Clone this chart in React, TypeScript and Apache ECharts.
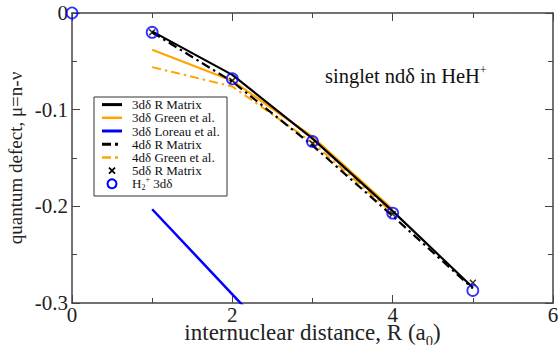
import React, { useEffect, useRef } from "react";
import * as echarts from "echarts";

const R5 = [1, 2, 3, 4, 5];
const R4 = [1, 2, 3, 4];
const R3 = [1, 2, 3];
const R6 = [0, 1, 2, 3, 4, 5];
const rMatrix3d = [-0.019, -0.064, -0.13, -0.205, -0.284];
const green3d = [-0.038, -0.07, -0.128, -0.203];
const loreau3d = [-0.203, -0.291, -0.379];
const rMatrix4d = [-0.02, -0.071, -0.137, -0.21, -0.285];
const green4d = [-0.056, -0.076, -0.134, -0.207];
const rMatrix5d = [-0.02, -0.07, -0.135, -0.208, -0.279];
const h2plus3d = [0, -0.02, -0.068, -0.133, -0.207, -0.287];
const xTicks = [0, 2, 4, 6];
const yTicks = [0, -0.1, -0.2, -0.3];

const SERIF = "'Liberation Serif', serif";
const AXIS = "#444";
const ORANGE = "#FFA500";
const BLUE = "#0000FF";
const DASHDOT = [9, 4, 2.5, 4];
const LG_FS = 13;
const ROW_H = 13.2;

const pairs = (xs: number[], ys: number[]) => xs.map((x, i) => [x, ys[i]]);

const legendItems = [
  { label: "{a|3dδ R Matrix}", kind: "line", color: "#000", dash: null, w: 3 },
  { label: "{a|3dδ Green et al.}", kind: "line", color: ORANGE, dash: null, w: 2.5 },
  { label: "{a|3dδ Loreau et al.}", kind: "line", color: BLUE, dash: null, w: 3 },
  { label: "{a|4dδ R Matrix}", kind: "line", color: "#000", dash: [9, 4, 3, 4], w: 3 },
  { label: "{a|4dδ Green et al.}", kind: "line", color: ORANGE, dash: [9, 4, 3, 4], w: 2.5 },
  { label: "{a|5dδ R Matrix}", kind: "x", color: "#000", dash: null, w: 2 },
  { label: "{a|H}{s|2}{p|+}{a| 3dδ}", kind: "o", color: BLUE, dash: null, w: 2 },
];

const XPATH = "path://M0,1.5L1.5,0L5,3.5L8.5,0L10,1.5L6.5,5L10,8.5L8.5,10L5,6.5L1.5,10L0,8.5L3.5,5Z";

export default function App() {
  const ref = useRef<HTMLDivElement>(null);
  useEffect(() => {
    if (!ref.current) return;
    const chart = echarts.init(ref.current, null, { renderer: "svg" });

    const lgLeft = 94, lgTop = 97, lgW = 133, lgH = 99;
    const legendEls: any[] = [
      {
        type: "rect",
        shape: { x: lgLeft, y: lgTop, width: lgW, height: lgH },
        style: { fill: "#fff", stroke: "#333", lineWidth: 1 },
        z: 100,
      },
    ];
    legendItems.forEach((it, i) => {
      const cy = lgTop + 1 + ROW_H / 2 + i * ROW_H;
      if (it.kind === "line") {
        legendEls.push({
          type: "line",
          shape: { x1: 102, y1: cy, x2: 122, y2: cy },
          style: { stroke: it.color, lineWidth: it.w, lineDash: it.dash || undefined },
          z: 101,
        });
      } else if (it.kind === "x") {
        legendEls.push({
          type: "line",
          shape: { x1: 109, y1: cy - 3, x2: 115, y2: cy + 3 },
          style: { stroke: "#000", lineWidth: 1.8 },
          z: 101,
        });
        legendEls.push({
          type: "line",
          shape: { x1: 115, y1: cy - 3, x2: 109, y2: cy + 3 },
          style: { stroke: "#000", lineWidth: 1.8 },
          z: 101,
        });
      } else {
        legendEls.push({
          type: "circle",
          shape: { cx: 112, cy, r: 4.5 },
          style: { fill: "none", stroke: BLUE, lineWidth: 2 },
          z: 101,
        });
      }
    });
    legendEls.push({
      type: "text",
      x: 132,
      y: lgTop + 1,
      style: {
        text: legendItems.map((it) => it.label).join("\n"),
        verticalAlign: "top",
        rich: {
          a: { fontFamily: SERIF, fontSize: LG_FS, fill: "#111", lineHeight: ROW_H },
          s: { fontFamily: SERIF, fontSize: 8, fill: "#111", lineHeight: 9, padding: [8, 0, 0, 0] },
          p: { fontFamily: SERIF, fontSize: 8, fill: "#111", lineHeight: 9, padding: [0, 0, 8, 0] },
        },
      },
      z: 101,
    });

    const axisLineStyle = { color: AXIS, width: 1.5 };
    const xBase = {
      type: "value",
      min: 0,
      max: 6,
      interval: 2,
      axisLine: { show: true, onZero: false, lineStyle: axisLineStyle },
      axisTick: { show: true, inside: true, length: 8, lineStyle: { color: AXIS, width: 1 } },
      minorTick: { show: true, splitNumber: 2, length: 5, lineStyle: { color: AXIS, width: 1 } },
      splitLine: { show: false },
      minorSplitLine: { show: false },
    };
    const yBase = {
      type: "value",
      min: -0.3,
      max: 0,
      interval: 0.1,
      axisLine: { show: true, onZero: false, lineStyle: axisLineStyle },
      axisTick: { show: true, inside: true, length: 8, lineStyle: { color: AXIS, width: 1 } },
      minorTick: { show: true, splitNumber: 2, length: 5, lineStyle: { color: AXIS, width: 1 } },
      splitLine: { show: false },
      minorSplitLine: { show: false },
    };

    chart.setOption({
      animation: false,
      backgroundColor: "#fff",
      grid: { left: 72, right: 7, top: 13, bottom: 42, containLabel: false, outerBoundsMode: "none" },
      xAxis: [
        {
          ...xBase,
          position: "bottom",
          axisLabel: {
            show: true,
            fontFamily: SERIF,
            fontSize: 21,
            lineHeight: 16,
            color: "#222",
            margin: 4,
            formatter: (v: number) => (xTicks.includes(v) ? String(v) : ""),
          },
          name: "{a|internuclear distance, R (a}{s|0}{a|)}",
          nameLocation: "middle",
          nameGap: 21,
          nameMoveOverlap: false,
          nameTextStyle: {
            rich: {
              a: { fontFamily: SERIF, fontSize: 23, color: "#222", lineHeight: 17 },
              s: { fontFamily: SERIF, fontSize: 14.5, color: "#222", lineHeight: 12, padding: [16, 0, 0, 0] },
            },
          },
        },
        { ...xBase, position: "top", axisLabel: { show: false } },
      ],
      yAxis: [
        {
          ...yBase,
          position: "left",
          axisLabel: {
            show: true,
            fontFamily: SERIF,
            fontSize: 21,
            color: "#222",
            margin: 4,
            formatter: (v: number) => {
              const m = yTicks.find((t) => Math.abs(t - v) < 1e-9);
              if (m === undefined) return "";
              return m === 0 ? "0" : m.toFixed(1);
            },
          },
          name: "quantum defect, μ=n-ν",
          nameLocation: "middle",
          nameGap: 47,
          nameMoveOverlap: false,
          nameTextStyle: { fontFamily: SERIF, fontSize: 19, color: "#222", lineHeight: 19 },
        },
        { ...yBase, position: "right", axisLabel: { show: false } },
      ],
      graphic: [
        {
          type: "text",
          x: 325,
          y: 76,
          style: {
            text: "{a|singlet ndδ in HeH}{p|+}",
            verticalAlign: "middle",
            rich: {
              a: { fontFamily: SERIF, fontSize: 20.5, fill: "#111" },
              p: { fontFamily: SERIF, fontSize: 12, fill: "#111", padding: [0, 0, 13, 0] },
            },
          },
          z: 100,
        },
        ...legendEls,
      ],
      series: [
        {
          name: "3dδ Loreau et al.",
          type: "line",
          data: pairs(R3, loreau3d),
          showSymbol: false,
          lineStyle: { color: BLUE, width: 2.5 },
          z: 2,
        },
        {
          name: "4dδ Green et al.",
          type: "line",
          data: pairs(R4, green4d),
          showSymbol: false,
          lineStyle: { color: ORANGE, width: 2, type: DASHDOT },
          z: 2,
        },
        {
          name: "3dδ Green et al.",
          type: "line",
          data: pairs(R4, green3d),
          showSymbol: false,
          lineStyle: { color: ORANGE, width: 2.2 },
          z: 3,
        },
        {
          name: "4dδ R Matrix",
          type: "line",
          data: pairs(R5, rMatrix4d),
          showSymbol: false,
          lineStyle: { color: "#000", width: 2.2, type: DASHDOT },
          z: 4,
        },
        {
          name: "3dδ R Matrix",
          type: "line",
          data: pairs(R5, rMatrix3d),
          showSymbol: false,
          lineStyle: { color: "#000", width: 2.2 },
          z: 4,
        },
        {
          name: "5dδ R Matrix",
          type: "scatter",
          data: pairs(R5, rMatrix5d),
          symbol: XPATH,
          symbolSize: 7,
          itemStyle: { color: "#000" },
          z: 5,
        },
        {
          name: "H2+ 3dδ",
          type: "scatter",
          data: pairs(R6, h2plus3d),
          symbol: "circle",
          symbolSize: 11,
          clip: false,
          itemStyle: { color: "rgba(0,0,0,0)", borderColor: BLUE, borderWidth: 1.8 },
          z: 6,
        },
      ],
    });
    return () => chart.dispose();
  }, []);
  return <div ref={ref} style={{ width: 560, height: 345, position: "absolute", left: 0, top: 0 }} />;
}
